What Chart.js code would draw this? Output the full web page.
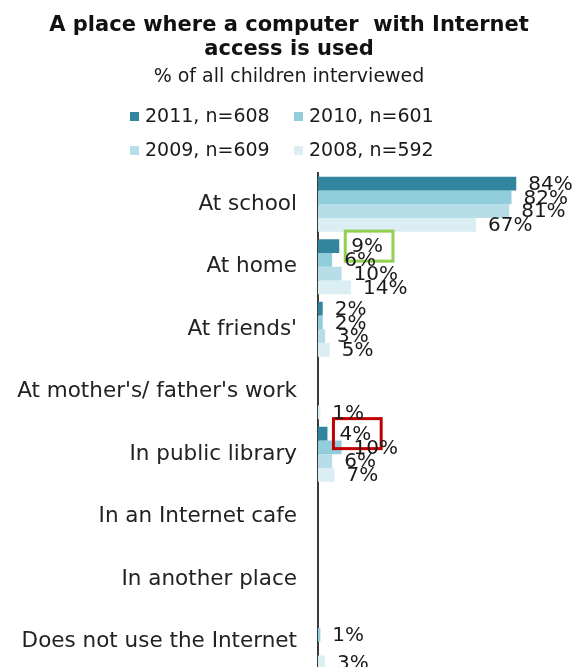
<!DOCTYPE html>
<html>
<head>
<meta charset="utf-8">
<script src="https://cdn.jsdelivr.net/npm/chart.js@4"></script>
<style>
  html, body { margin: 0; padding: 0; background: #fff; }
  #wrap { position: relative; width: 578px; height: 667px; overflow: hidden; font-family: "DejaVu Sans", sans-serif; color: #111; }
  #chart { position: absolute; left: 0; top: 0; }
  .title { position: absolute; left: 0; width: 578px; text-align: center; white-space: pre; }
  #t1 { top: 12px; font-size: 21px; font-weight: bold; line-height: 24px; }
  #t2 { top: 63px; font-size: 19px; line-height: 24px; color: #1a1a1a; }
  .leg { position: absolute; font-size: 19px; line-height: 24px; white-space: pre; color: #1a1a1a; }
  .leg span { display: inline-block; width: 9px; height: 9px; margin-right: 6px; vertical-align: 1px; }
</style>
</head>
<body>
<div id="wrap">
  <canvas id="chart" width="578" height="700"></canvas>
  <div class="title" id="t1">A place where a computer  with Internet
access is used</div>
  <div class="title" id="t2">% of all children interviewed</div>
  <div id="legend"></div>
</div>
<script>
// Kategorien & Werte (% aller befragten Kinder)
const categories = ["At school", "At home", "At friends'", "At mother's/ father's work",
    "In public library", "In an Internet cafe", "In another place", "Does not use the Internet"];
const seriesNames = ["2011, n=608", "2010, n=601", "2009, n=609", "2008, n=592"];
const seriesColors = ["#31859c", "#92cddc", "#b7dee8", "#daeef3"];

const values2011 = [84, 9, 2, null, 4, null, null, null];
const values2010 = [82, 6, 2, null, 10, null, null, 1];
const values2009 = [81, 10, 3, null, 6, null, null, null];
const values2008 = [67, 14, 5, 1, 7, null, null, 3];

// markierte Werte (Kasten um das Label)
const highlights = [
    { cat: "At home", series: 0, color: "#92d050" },
    { cat: "In public library", series: 0, color: "#c00000" }
];

const allValues = [values2011, values2010, values2009, values2008];

// Legende in HTML (2 Spalten)
const legPos = [[130, 103], [294, 103], [130, 137], [294, 137]];
const legend = document.getElementById('legend');
seriesNames.forEach((name, i) => {
    legend.innerHTML += `<div class="leg" style="left:${legPos[i][0]}px;top:${legPos[i][1]}px"><span style="background:${seriesColors[i]}"></span>${name}</div>`;
});

const labelFont = '20px "DejaVu Sans"';

const valueLabels = {
    id: 'valueLabels',
    afterDatasetsDraw(chart) {
        const ctx = chart.ctx;
        ctx.save();
        ctx.font = labelFont;
        ctx.fillStyle = '#1a1a1a';
        ctx.textAlign = 'left';
        ctx.textBaseline = 'middle';
        chart.data.datasets.forEach((ds, di) => {
            const meta = chart.getDatasetMeta(di);
            meta.data.forEach((bar, i) => {
                const v = ds.data[i];
                if (v === null || v === undefined) return;
                const txt = v + '%';
                const x = bar.x + 12;
                ctx.fillText(txt, x, bar.y + 1);
                const hl = highlights.find(h => h.series === di && h.cat === categories[i]);
                if (hl) {
                    const w = ctx.measureText(txt).width;
                    ctx.strokeStyle = hl.color;
                    ctx.lineWidth = 3;
                    ctx.strokeRect(x - 6, bar.y - 15, w + 16, 30);
                }
            });
        });
        ctx.restore();
    }
};

new Chart(document.getElementById('chart'), {
    type: 'bar',
    data: {
        labels: categories,
        datasets: allValues.map((vals, i) => ({
            label: seriesNames[i],
            data: vals,
            backgroundColor: seriesColors[i],
            borderWidth: 0,
            categoryPercentage: 0.88,
            barPercentage: 1.0
        }))
    },
    options: {
        indexAxis: 'y',
        responsive: false,
        animation: false,
        layout: { padding: { top: 173, right: 24, bottom: 27, left: 0 } },
        plugins: { legend: { display: false }, tooltip: { enabled: false } },
        scales: {
            x: { display: false, min: 0, max: 100 },
            y: {
                afterFit: (scale) => {
                    scale.width = 318;
                    scale.paddingTop = 0;
                    scale.paddingBottom = 0;
                },
                grid: { display: false, drawTicks: false },
                border: { display: true, color: '#3a3a3a', width: 2 },
                ticks: { color: '#222', padding: 21, font: { family: 'DejaVu Sans', size: 21.5 } }
            }
        }
    },
    plugins: [valueLabels]
});
</script>
</body>
</html>
